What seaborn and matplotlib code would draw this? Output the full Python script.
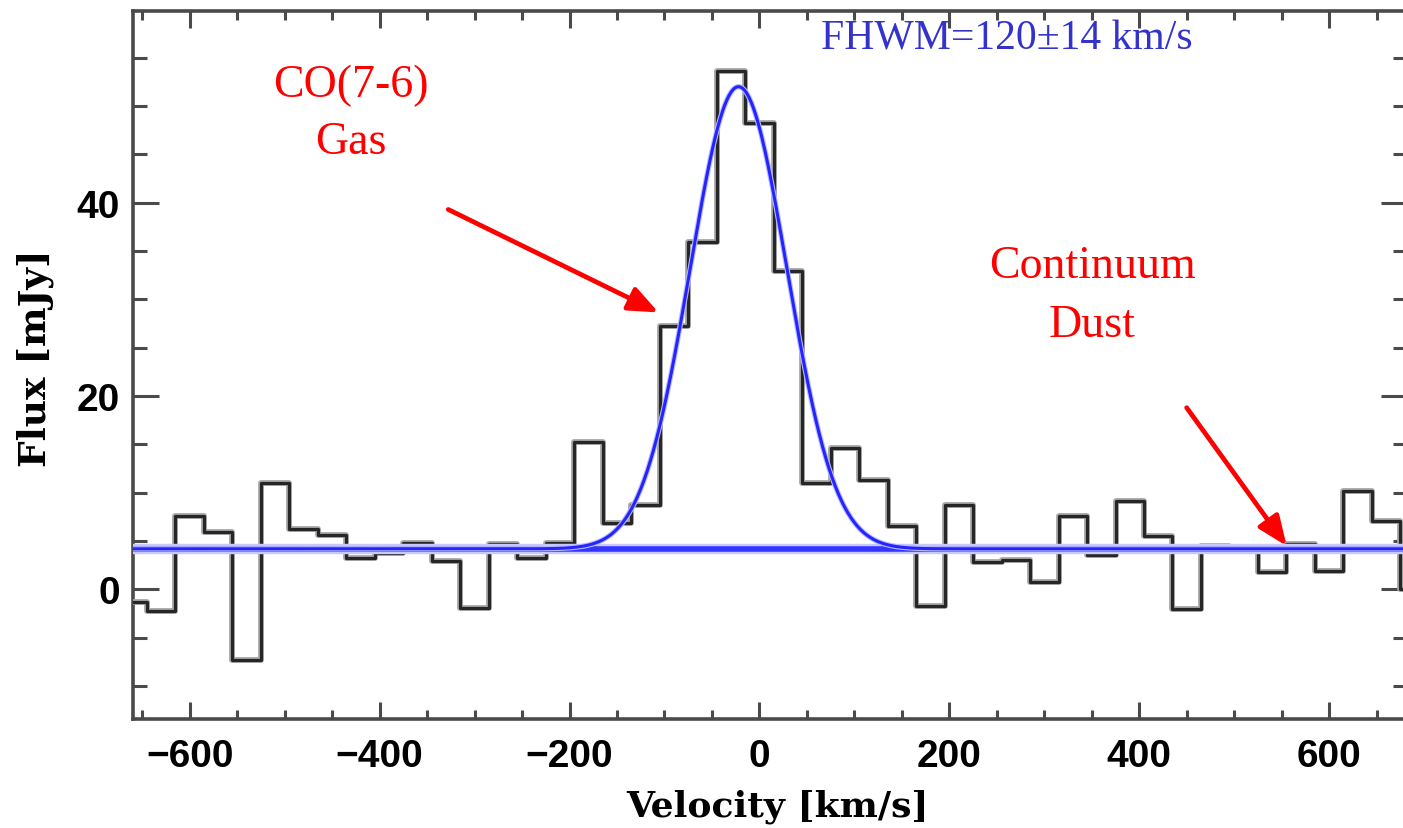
import numpy as np
import matplotlib
matplotlib.use("Agg")
import matplotlib.pyplot as plt
import matplotlib.patheffects as pe
from matplotlib.ticker import MultipleLocator
import seaborn as sns

# Spectrum: channel centres (km/s) and flux density per channel (mJy)
velocity = [-660, -630, -600, -570, -540, -510, -480, -450, -420, -390,
            -360, -330, -300, -270, -240, -210, -180, -150, -120, -90,
            -60, -30, 0, 30, 60, 90, 120, 150, 180, 210,
            240, 270, 300, 330, 360, 390, 420, 450, 480, 510,
            540, 570, 600, 630, 660, 690]
flux = [-1.35, -2.2, 7.6, 5.96, -7.3, 10.96, 6.24, 5.65, 3.2, 3.75,
        4.76, 2.96, -1.97, 4.69, 3.2, 4.79, 15.27, 6.86, 8.72, 27.27,
        35.96, 53.65, 48.24, 32.96, 10.96, 14.58, 11.34, 6.58, -1.76, 8.72,
        2.86, 3.06, 0.79, 7.6, 3.55, 9.17, 5.55, -2.04, 4.51, 4.1,
        1.76, 4.69, 1.93, 10.2, 7.1, 0.0]

# Gaussian line fit on top of a flat continuum
continuum = 4.2       # mJy
line_peak = 47.8      # mJy above continuum
line_center = -22.0   # km/s
line_fwhm = 120.0     # km/s

x_range = [-660, 682]
y_range = [-13.4, 59.8]

sns.set_theme(style="ticks")
plt.rcParams["font.family"] = ["Liberation Sans", "DejaVu Sans"]

fig = plt.figure(figsize=(14.03, 8.29), dpi=100)
ax = fig.add_axes([0.09458, 0.1315, 0.9083, 0.8537])

# Observed spectrum as a histogram-style step line
sns.lineplot(x=velocity, y=flux, drawstyle="steps-mid", color="#262626",
             linewidth=2.3, ax=ax, zorder=3,
             path_effects=[pe.Stroke(linewidth=4.2, foreground="#a8a8a8"), pe.Normal()])

# Continuum level
sns.lineplot(x=x_range, y=[continuum, continuum], color="#3434ff",
             linewidth=4.0, ax=ax, zorder=4,
             path_effects=[pe.Stroke(linewidth=7.5, foreground="#c8c8ff"), pe.Normal()])

# Gaussian model
model_v = np.linspace(x_range[0], x_range[1], 1200)
sigma = line_fwhm / (2.0 * np.sqrt(2.0 * np.log(2.0)))
model_f = continuum + line_peak * np.exp(-0.5 * ((model_v - line_center) / sigma) ** 2)
sns.lineplot(x=model_v, y=model_f, color="#2424ff", linewidth=2.2, ax=ax, zorder=5,
             path_effects=[pe.Stroke(linewidth=3.8, foreground="#b8b8ff"), pe.Normal()])

ax.set_xlim(*x_range)
ax.set_ylim(*y_range)

# Axes frame and ticks
for sp in ax.spines.values():
    sp.set_color("#4a4a4a")
    sp.set_linewidth(2.6)

ax.xaxis.set_major_locator(MultipleLocator(200))
ax.xaxis.set_minor_locator(MultipleLocator(50))
ax.yaxis.set_major_locator(MultipleLocator(20))
ax.yaxis.set_minor_locator(MultipleLocator(5))

ax.tick_params(which="both", direction="in", top=True, right=True,
               color="#4a4a4a", labelcolor="black")
ax.tick_params(axis="x", which="major", length=12, width=2.2, pad=14, labelsize=28)
ax.tick_params(axis="x", which="minor", length=6.5, width=2.2)
ax.tick_params(axis="y", which="major", length=18.5, width=2.2, pad=9, labelsize=28)
ax.tick_params(axis="y", which="minor", length=10, width=2.2)
for lab in ax.get_xticklabels() + ax.get_yticklabels():
    lab.set_fontweight("bold")

ax.set_xlabel("Velocity [km/s]", family="DejaVu Serif", fontweight="bold",
              fontsize=26, va="center", color="black")
ax.set_ylabel("Flux [mJy]", family="DejaVu Serif", fontweight="bold",
              fontsize=27, va="center", color="black")
ax.xaxis.set_label_coords(0.506, -0.1225)
ax.yaxis.set_label_coords(-0.0767, 0.512)

# Annotations
serif = ["Liberation Serif", "DejaVu Serif"]
ax.text(65, 55.9, "FHWM=120\u00b114 km/s", color="#3333cc", family=serif,
        fontsize=30, ha="left", va="baseline")
ax.text(-430.5, 51.0, "CO(7-6)", color="red", family=serif, fontsize=33,
        ha="center", va="baseline")
ax.text(-430.5, 45.1, "Gas", color="red", family=serif, fontsize=33,
        ha="center", va="baseline")
ax.text(350.5, 32.3, "Continuum", color="red", family=serif, fontsize=33,
        ha="center", va="baseline")
ax.text(350.5, 26.2, "Dust", color="red", family=serif, fontsize=33,
        ha="center", va="baseline")

arrow_style = dict(arrowstyle="-|>,head_length=0.6,head_width=0.25", color="red",
                   lw=3.4, shrinkA=0, shrinkB=0, mutation_scale=30)
ax.annotate("", xy=(-106.3, 28.65), xytext=(-327.7, 39.3), arrowprops=arrow_style)
ax.annotate("", xy=(555.2, 4.5), xytext=(449.9, 18.8), arrowprops=arrow_style)

fig.savefig("out.png", dpi=100)
